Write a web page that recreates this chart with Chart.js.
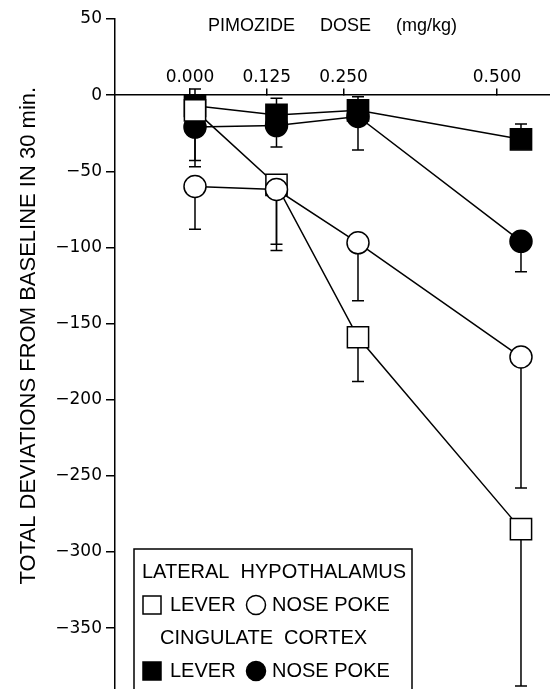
<!DOCTYPE html>
<html><head><meta charset="utf-8">
<script src="https://cdn.jsdelivr.net/npm/chart.js@4/dist/chart.umd.min.js"></script>
<style>html,body{margin:0;padding:0;background:#fff;overflow:hidden}#wrap{position:relative;width:550px;height:689px}</style>
</head><body><div id="wrap"><canvas id="c" width="550" height="689"></canvas></div>
<script>
// ---- data ----
const doses = [0, 0.125, 0.25, 0.5];
const doseTickLabels = ['0.000', '0.125', '0.250', '0.500'];
const yTickValues = [50, 0, -50, -100, -150, -200, -250, -300, -350];
const yTickLabels = ['50', '0', '\u221250', '\u2212100', '\u2212150', '\u2212200', '\u2212250', '\u2212300', '\u2212350'];

const lhLever = [-10, -59, -159, -285];
const lhLeverErrEnd = [-43, -98, -188, -388];
const lhNose = [-60, -62, -97, -172];
const lhNoseErrEnd = [-88, -102, -135, -258];
const ccLever = [-7, -13, -10, -29];
const ccLeverErrEnd = [4, -2, -1, -19];
const ccNose = [-21, -20, -14, -96];
const ccNoseErrEnd = [-47, -34, -36, -116];

const seriesNames = ['LEVER', 'NOSE POKE'];
const groupNames = ['LATERAL  HYPOTHALAMUS', 'CINGULATE  CORTEX'];

const pts = arr => doses.map((d, i) => ({x: d, y: arr[i]}));
const noPad = () => ({left: 0, top: 0, right: 0, bottom: 0});

const errorBars = {
  id: 'errorBars',
  beforeDatasetsDraw(chart) {
    const {ctx, scales: {x, y}} = chart;
    ctx.save();
    ctx.strokeStyle = '#000';
    ctx.lineWidth = 1.5;
    chart.data.datasets.forEach(ds => {
      ds.errEnd.forEach((e, i) => {
        const px = x.getPixelForValue(ds.data[i].x);
        const py = y.getPixelForValue(ds.data[i].y);
        const pe = y.getPixelForValue(e);
        ctx.beginPath();
        ctx.moveTo(px, py); ctx.lineTo(px, pe);
        ctx.moveTo(px - 6, pe); ctx.lineTo(px + 6, pe);
        ctx.stroke();
      });
    });
    ctx.restore();
  }
};

const legendPanel = {
  id: 'legendPanel',
  afterDraw(chart) {
    const ctx = chart.ctx;
    const ds = chart.data.datasets;
    ctx.save();
    ctx.fillStyle = '#fff';
    ctx.strokeStyle = '#000';
    ctx.lineWidth = 1.5;
    ctx.fillRect(134, 549, 278, 150);
    ctx.strokeRect(134, 549, 278, 150);
    ctx.fillStyle = '#000';
    ctx.font = '20px "Liberation Sans", Arial, sans-serif';
    ctx.textBaseline = 'middle';
    ctx.textAlign = 'left';
    ctx.fillText(groupNames[0], 142, 572);
    ctx.fillText(groupNames[1], 160, 638);
    const rows = [[ds.find(d => d.key === 'lhLever'), ds.find(d => d.key === 'lhNose'), 605],
                  [ds.find(d => d.key === 'ccLever'), ds.find(d => d.key === 'ccNose'), 671]];
    rows.forEach(([sq, ci, yy]) => {
      ctx.beginPath();
      ctx.rect(143, yy - 9, 18, 18);
      ctx.fillStyle = sq.pointBackgroundColor; ctx.fill();
      ctx.strokeStyle = '#000'; ctx.lineWidth = 1.5; ctx.stroke();
      ctx.fillStyle = '#000';
      ctx.fillText(seriesNames[0], 170, yy);
      ctx.beginPath();
      ctx.arc(256, yy, 9.5, 0, Math.PI * 2);
      ctx.fillStyle = ci.pointBackgroundColor; ctx.fill();
      ctx.stroke();
      ctx.fillStyle = '#000';
      ctx.fillText(seriesNames[1], 272, yy);
    });
    ctx.restore();
  }
};

const base = {borderColor: '#000', borderWidth: 1.5, pointBorderColor: '#000', pointBorderWidth: 1.5, tension: 0, fill: false, xAxisID: 'x', yAxisID: 'y'};

new Chart(document.getElementById('c'), {
  type: 'line',
  data: {
    datasets: [
      Object.assign({}, base, {key: 'ccLever', label: 'CC LEVER', data: pts(ccLever), errEnd: ccLeverErrEnd, pointStyle: 'rect', pointRadius: 15, pointBackgroundColor: '#000', order: 3}),
      Object.assign({}, base, {key: 'ccNose', label: 'CC NOSE POKE', data: pts(ccNose), errEnd: ccNoseErrEnd, pointStyle: 'circle', pointRadius: 11, pointBackgroundColor: '#000', order: 2}),
      Object.assign({}, base, {key: 'lhLever', label: 'LH LEVER', data: pts(lhLever), errEnd: lhLeverErrEnd, pointStyle: 'rect', pointRadius: 15, pointBackgroundColor: '#fff', order: 1}),
      Object.assign({}, base, {key: 'lhNose', label: 'LH NOSE POKE', data: pts(lhNose), errEnd: lhNoseErrEnd, pointStyle: 'circle', pointRadius: 11, pointBackgroundColor: '#fff', order: 0})
    ]
  },
  options: {
    responsive: false,
    animation: false,
    devicePixelRatio: 1,
    layout: {autoPadding: false, padding: {top: 0, left: 0, right: 0, bottom: 0}},
    plugins: {
      legend: {display: false},
      tooltip: {enabled: false},
      title: {
        display: true, text: 'PIMOZIDE     DOSE     (mg/kg)', fullSize: false, color: '#000',
        font: {family: '"Liberation Sans", Arial, sans-serif', size: 18, weight: 'normal'},
        padding: {top: 15, bottom: -17.6}
      }
    },
    scales: {
      x: {
        type: 'linear', display: false, min: -0.1227, max: 0.5445,
        afterFit: s => { s.getPadding = noPad; }
      },
      xDose: {
        type: 'linear', axis: 'x', position: {y: 0}, min: -0.1221, max: 0.5863,
        afterBuildTicks: s => { s.ticks = doses.map(v => ({value: v})); },
        afterFit: s => { s.paddingLeft = 0; s.paddingRight = 0; s.getPadding = noPad; },
        ticks: {
          callback: v => doseTickLabels[doses.indexOf(v)],
          font: {family: '"DejaVu Sans", sans-serif', size: 17}, color: '#000',
          padding: -21, maxRotation: 0, autoSkip: false
        },
        grid: {drawOnChartArea: false, drawTicks: true, tickLength: -7, color: '#000', lineWidth: 1.5},
        border: {display: true, color: '#000', width: 1.5}
      },
      y: {
        type: 'linear', position: 'left', min: -390, max: 50,
        afterBuildTicks: s => { s.ticks = yTickValues.map(v => ({value: v})); },
        afterFit: s => { s.width = 115; s.paddingTop = 0; s.paddingBottom = 0; s.getPadding = noPad; },
        ticks: {
          callback: v => yTickLabels[yTickValues.indexOf(v)],
          font: {family: '"DejaVu Sans", sans-serif', size: 17}, color: '#000', padding: 4
        },
        grid: {drawOnChartArea: false, drawTicks: true, tickLength: 9, color: '#000', lineWidth: 1.5},
        border: {display: true, color: '#000', width: 1.5},
        title: {
          display: true, text: '      TOTAL DEVIATIONS FROM BASELINE IN 30 min.', color: '#000',
          font: {family: '"Liberation Sans", Arial, sans-serif', size: 22},
          padding: {top: 16, bottom: 0}
        }
      }
    }
  },
  plugins: [errorBars, legendPanel]
});
</script>
</body></html>
